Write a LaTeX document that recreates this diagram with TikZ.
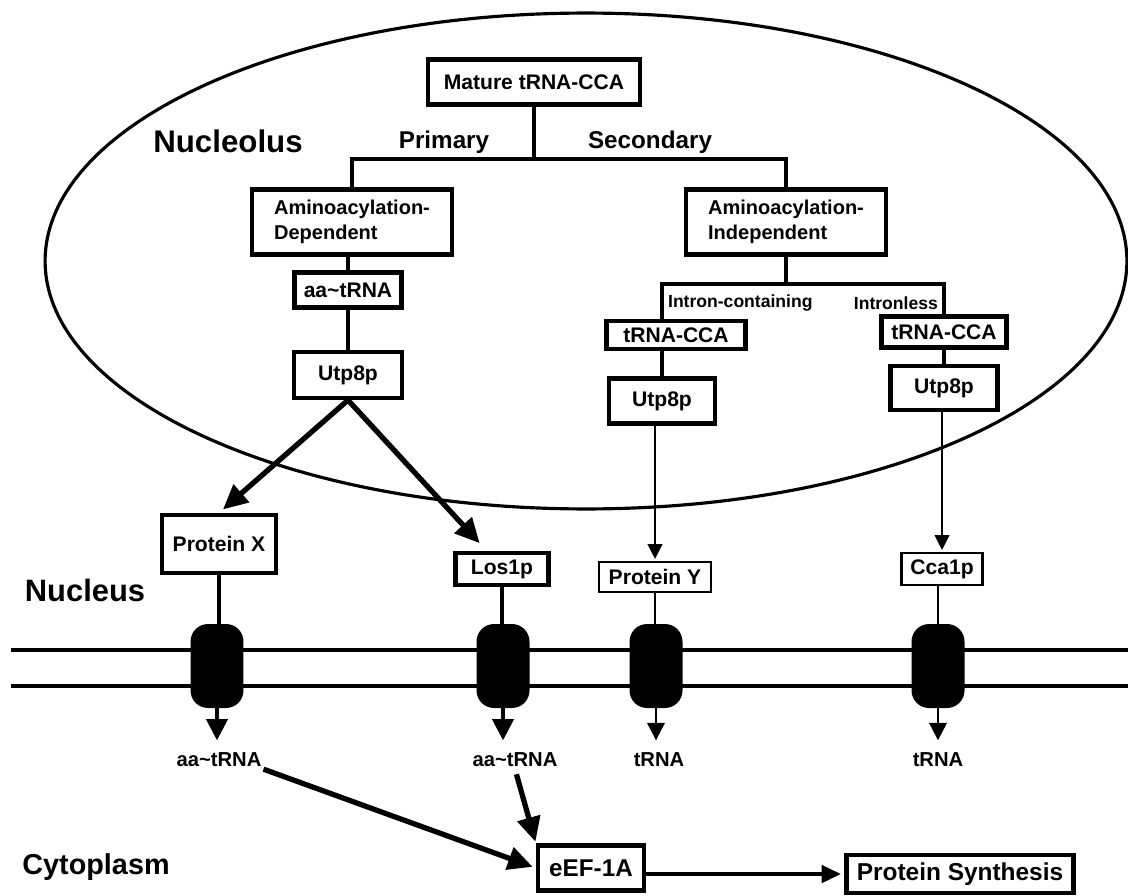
\documentclass[tikz,border=0pt]{standalone}
\usepackage{fontspec}
\setmainfont{Liberation Sans}
\usetikzlibrary{arrows.meta}

\begin{document}
\begin{tikzpicture}[
    x=0.02cm, y=-0.02cm,
    box/.style={draw, line width=2.4pt, inner sep=0pt, align=center,
                font=\fontsize{12}{14}\selectfont\bfseries},
    thinbox/.style={box, line width=1.5pt},
    twoline/.style={box, align=left,
                    font=\fontsize{11.4}{14.2}\selectfont\bfseries},
    lbl/.style={font=\fontsize{13.8}{16}\selectfont\bfseries, inner sep=1pt},
    small/.style={font=\fontsize{10}{12}\selectfont\bfseries, inner sep=1pt},
    region/.style={font=\fontsize{17.6}{20}\selectfont\bfseries},
    tree/.style={line width=2pt},
    pore/.style={fill=black, rounded corners=10pt, minimum width=1.06cm,
                 minimum height=1.68cm, inner sep=0pt},
    bigarr/.style={line width=3pt, -{Triangle[length=14pt, width=13pt]}},
    medarr/.style={line width=2pt, -{Triangle[length=12pt, width=12pt]}},
    slimarr/.style={line width=1.3pt, -{Triangle[length=10pt, width=10pt]}},
    thinarr/.style={line width=0.8pt, -{Triangle[length=8.5pt, width=8.5pt]}}
  ]
  \useasboundingbox (0,0) rectangle (1128,895);

  % nucleolus
  \draw[line width=1.8pt] (586,261) ellipse [x radius=10.82cm, y radius=4.96cm];
  \node[region, font=\fontsize{17.8}{20}\selectfont\bfseries] (nucleolus) at (228,141) {Nucleolus};

  % branch: primary / secondary
  \node[box, minimum width=4.24cm, minimum height=0.9cm] (mature) at (534,82) {Mature tRNA-CCA};
  \coordinate (br) at (534,159);
  \node[lbl] (primary) at (444,142) {Primary};
  \node[lbl] (secondary) at (650,142) {Secondary};
  \node[twoline, minimum width=4cm, minimum height=1.3cm] (dep) at (352,222) {Aminoacylation-\\Dependent};
  \node[twoline, minimum width=4cm, minimum height=1.3cm] (indep) at (786,222) {Aminoacylation-\\Independent};
  \draw[tree] (mature) -- (br);
  \draw[tree] (dep) |- (br) -| (indep);

  % primary path
  \node[box, minimum width=2.14cm, minimum height=0.7cm] (aatrna) at (348,290) {aa\textasciitilde tRNA};
  \node[box, minimum width=2.16cm, minimum height=0.92cm] (utpA) at (348,375) {Utp8p};
  \draw[tree] (dep.south -| aatrna) -- (aatrna) -- (utpA);

  % secondary path
  \coordinate (sb) at (786,284);
  \node[small, anchor=west] (intron) at (666,303) {Intron-containing};
  \node[small, anchor=east] (intronless) at (940,303) {Intronless};
  \node[box, minimum width=2.78cm, minimum height=0.56cm] (trnaA) at (676,335) {tRNA-CCA};
  \node[box, minimum width=2.5cm, minimum height=0.62cm] (trnaB) at (944,332) {tRNA-CCA};
  \node[box, minimum width=2.12cm, minimum height=0.9cm] (utpB) at (662,401) {Utp8p};
  \node[box, minimum width=2.14cm, minimum height=0.88cm] (utpC) at (944,388) {Utp8p};
  \draw[tree] (indep) -- (sb);
  \draw[tree] (trnaA.north -| utpB) |- (sb) -| (trnaB);
  \draw[tree] (trnaA.south -| utpB) -- (utpB);
  \draw[tree] (trnaB) -- (utpC);

  % nucleus
  \node[region] (nucleus) at (85,590) {Nucleus};
  \node[box, minimum width=2.28cm, minimum height=1.16cm] (protX) at (219,544) {Protein X};
  \node[box, minimum width=1.86cm, minimum height=0.64cm] (los) at (502,569) {Los1p};
  \node[thinbox, minimum width=2.24cm, minimum height=0.6cm] (protY) at (655,577) {Protein Y};
  \node[thinbox, minimum width=1.62cm, minimum height=0.64cm] (cca) at (942,569) {Cca1p};
  \draw[bigarr, shorten >=3pt] (utpA.south) -- (protX.north);
  \draw[bigarr, shorten >=6pt] (utpA.south) -- (los.130);
  \draw[thinarr, shorten >=1pt] (utpB.south -| protY) -- (protY.north);
  \draw[thinarr, shorten >=1pt] (utpC.south -| cca) -- (cca.north);

  % nuclear envelope and pores
  \draw[line width=1.8pt] (11,650) -- (1128,650);
  \draw[line width=1.8pt] (11,686) -- (1128,686);
  \node[pore] (p1) at (217,666) {};
  \node[pore] (p2) at (503,666) {};
  \node[pore] (p3) at (656,666) {};
  \node[pore] (p4) at (938,666) {};
  \draw[line width=1.8pt] (protX) -- (protX |- p1.north);
  \draw[line width=1.8pt] (los) -- (los |- p2.north);
  \draw[line width=0.8pt] (protY) -- (protY |- p3.north);
  \draw[line width=1pt] (cca.south -| p4) -- (p4);

  % cytoplasm
  \node[small, font=\fontsize{11.5}{13}\selectfont\bfseries] (t1) at (219,760) {aa\textasciitilde tRNA};
  \node[small, font=\fontsize{11.5}{13}\selectfont\bfseries] (t2) at (515,760) {aa\textasciitilde tRNA};
  \node[small, font=\fontsize{11.5}{13}\selectfont\bfseries] (t3) at (659,760) {tRNA};
  \node[small, font=\fontsize{11.5}{13}\selectfont\bfseries] (t4) at (938,760) {tRNA};
  \draw[medarr, shorten >=6pt] (p1.south) -- (p1.south |- t1.north);
  \draw[medarr, shorten >=6pt] (p2.south) -- (p2.south |- t2.north);
  \draw[slimarr, shorten >=6pt] (p3.south) -- (p3.south |- t3.north);
  \draw[slimarr, shorten >=6pt] (p4.south) -- (p4.south |- t4.north);

  \node[region, font=\fontsize{16.4}{19}\selectfont\bfseries] (cytoplasm) at (96,867) {Cytoplasm};
  \node[box, minimum width=2.12cm, minimum height=0.9cm,
        font=\fontsize{13.8}{16}\selectfont\bfseries] (eef) at (591,868) {eEF-1A};
  \node[box, minimum width=4.54cm, minimum height=0.76cm,
        font=\fontsize{13.9}{16}\selectfont\bfseries] (synth) at (960,874) {Protein Synthesis};
  \draw[bigarr, shorten >=2pt] (t1.south east) -- (eef.west);
  \draw[bigarr, shorten <=3pt, shorten >=1pt] (t2.south) -- (eef.north west);
  \draw[line width=1.8pt, -{Triangle[length=11pt, width=10pt]}, shorten >=2pt] (eef.east |- synth) -- (synth);
\end{tikzpicture}
\end{document}
